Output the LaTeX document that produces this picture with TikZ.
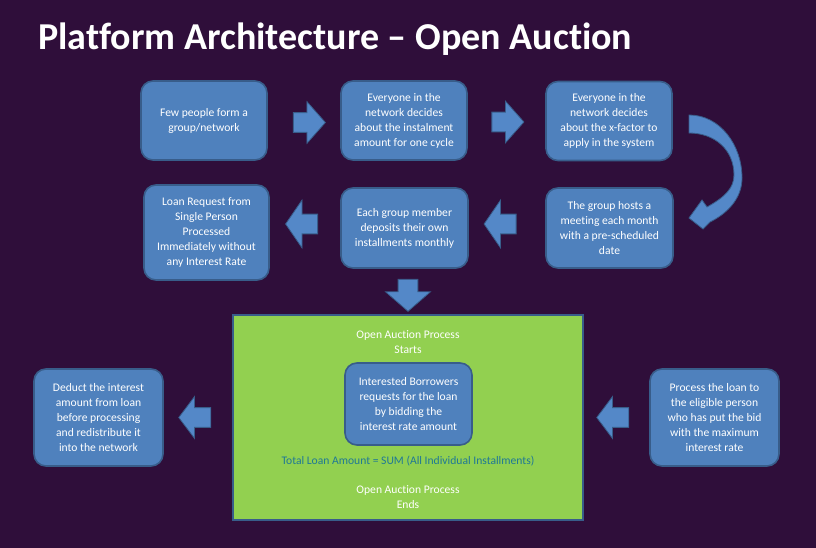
\documentclass[tikz,border=0pt]{standalone}
\usepackage{fontspec}
\setmainfont{Carlito}[Ligatures=NoCommon]
\usetikzlibrary{shapes.arrows,calc}
\definecolor{bgpurple}{RGB}{47,14,58}
\definecolor{boxblue}{RGB}{79,129,189}
\definecolor{boxedge}{RGB}{56,93,138}
\definecolor{arrowblue}{RGB}{84,136,200}
\definecolor{greenfill}{RGB}{146,208,80}
\definecolor{tealtext}{RGB}{31,120,150}
\begin{document}
\begin{tikzpicture}[x=0.75pt,y=-0.75pt,
  txt/.style={font=\fontsize{8.7}{11.25}\selectfont, align=center, inner sep=0pt},
  box/.style={txt, draw=boxedge, line width=1.2pt, fill=boxblue, rounded corners=9pt, text=white},
  blockarrow/.style={single arrow, draw=boxedge, line width=0.6pt, fill=arrowblue, inner xsep=0pt, inner ysep=7.1pt, single arrow head extend=8.25pt, minimum height=24pt, single arrow tip angle=97},
  bigarrow/.style={blockarrow, single arrow head extend=10.5pt, single arrow tip angle=111},
]
\fill[bgpurple] (0,0) rectangle (816,548);
\useasboundingbox (0,0) rectangle (816,548);

\node[anchor=base west, text=white, inner sep=0pt, font=\fontsize{28.5}{30}\selectfont\bfseries] (title) at (38,50) {Platform Architecture – Open Auction};

% row 1
\node[box, minimum width=94.5pt, minimum height=59.25pt] (b1) at (204,120.5) {Few people form a\\group/network};
\node[box, minimum width=94.5pt, minimum height=59.25pt] (b2) at (404,120.5) {Everyone in the\\network decides\\about the instalment\\amount for one cycle};
\node[box, minimum width=94.5pt, minimum height=59.25pt] (b3) at (609,121) {Everyone in the\\network decides\\about the x-factor to\\apply in the system};
% row 2
\node[box, minimum width=93.75pt, minimum height=71.25pt] (b4) at (206.5,232.5) {Loan Request from\\Single Person\\Processed\\Immediately without\\any Interest Rate};
\node[box, minimum width=95.25pt, minimum height=60pt] (b5) at (404.5,228) {Each group member\\deposits their own\\installments monthly};
\node[box, minimum width=95.25pt, minimum height=60pt] (b6) at (609.5,228) {The group hosts a\\meeting each month\\with a pre-scheduled\\date};
% row 3
\node[draw=boxedge, line width=1.2pt, fill=greenfill, minimum width=262.5pt, minimum height=153.75pt, inner sep=0pt] (green) at (408,417.5) {};
\node[txt, text=white] (start) at (408,342.5) {Open Auction Process\\Starts};
\node[box, minimum width=95.25pt, minimum height=61.5pt] (bid) at (408.5,404) {Interested Borrowers\\requests for the loan\\by bidding the\\interest rate amount};
\node[txt, text=tealtext] (total) at (408,461) {Total Loan Amount = SUM (All Individual Installments)};
\node[txt, text=white] (ends) at (408,497.5) {Open Auction Process\\Ends};
\node[box, minimum width=96.75pt, minimum height=72.75pt] (deduct) at (98.5,417.5) {Deduct the interest\\amount from loan\\before processing\\and redistribute it\\into the network};
\node[box, minimum width=96.75pt, minimum height=72.75pt] (process) at (714.5,417.5) {Process the loan to\\the eligible person\\who has put the bid\\with the maximum\\interest rate};

% block arrows
\node[blockarrow] (a1) at (305,122.5) {};
\node[blockarrow] (a2) at (503.5,122) {};
\node[bigarrow, shape border rotate=180] (a3) at (305,224) {};
\node[bigarrow, shape border rotate=180] (a4) at (503.5,224) {};
\node[blockarrow, rotate=-90, single arrow head extend=9.4pt, single arrow tip angle=98] (a5) at (408,291) {};
\node[blockarrow, shape border rotate=180, single arrow tip angle=106] (a6) at (198.5,417.5) {};
\node[blockarrow, shape border rotate=180, single arrow tip angle=106] (a7) at (616.5,417.5) {};

% curved arrow from b3 to b6
\coordinate (cs1) at (689,115);
\coordinate (cs2) at (689,133);
\fill[arrowblue, draw=boxedge, line width=0.6pt]
  (cs1) .. controls (720,115) and (742,145) .. (742,178)
  .. controls (742,198) and (728,213) .. (710,222)
  -- (703,229) -- (689,218) -- (702,200) -- (707,207)
  .. controls (725,197) and (734,188) .. (734,175)
  .. controls (734,150) and (715,133) .. (cs2) -- cycle;
\end{tikzpicture}
\end{document}
